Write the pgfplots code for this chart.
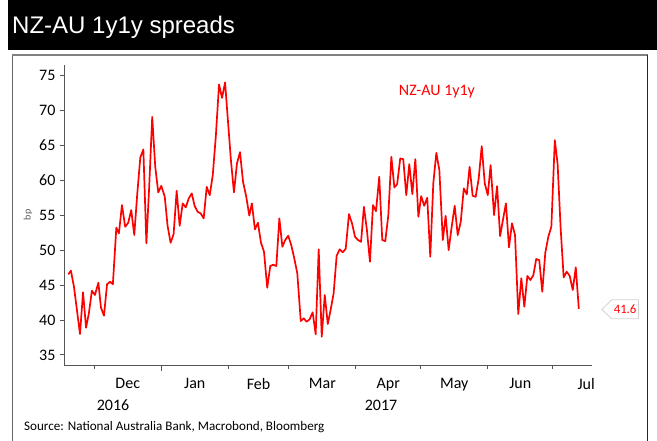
\documentclass[border=0pt]{standalone}
\usepackage{fontspec}
\setmainfont{Carlito}
\newfontfamily\titlefont{Liberation Sans}
\usepackage{pgfplots}
\pgfplotsset{compat=1.18}
\definecolor{axisgray}{HTML}{555555}
\definecolor{nabred}{HTML}{FF0000}
\pgfplotstableread{
x y
-12.0 46.53
-10.8 47.05
-9.4 44.76
-6.6 37.99
-5.2 43.96
-3.8 38.89
-2.5 40.95
-1.1 44.18
0.3 43.57
1.9 45.33
3.1 41.75
4.5 40.61
5.9 45.10
7.3 45.47
8.6 45.10
10.2 53.20
11.4 52.40
12.8 56.44
14.3 53.34
15.7 53.91
17.1 55.73
18.5 52.15
19.9 58.12
21.3 63.27
22.7 64.41
24.1 50.96
25.4 59.06
26.8 69.07
28.2 61.92
29.6 58.26
31.0 59.20
32.6 57.63
33.9 53.48
35.3 51.05
36.7 52.29
38.1 58.49
39.5 53.48
40.9 56.69
42.3 56.11
43.7 57.40
45.1 58.12
46.4 56.34
47.8 55.48
49.2 55.26
50.6 54.54
52.0 59.06
53.4 57.87
54.8 60.73
56.2 66.21
57.7 73.71
59.1 71.79
60.5 74.00
61.8 68.60
63.2 62.88
64.6 58.26
66.0 62.41
67.4 64.02
68.8 59.78
70.3 57.63
71.7 54.94
72.9 56.69
74.3 52.97
75.7 53.91
77.1 51.05
78.5 49.76
80.0 44.61
81.4 47.72
82.8 47.91
84.2 47.72
85.6 54.54
87.0 50.48
88.3 51.44
89.7 52.05
91.1 50.72
92.5 48.82
93.9 46.67
95.5 39.85
96.9 40.23
98.2 39.75
99.6 40.09
101.0 41.09
102.4 37.95
103.8 50.11
105.2 37.60
106.6 43.57
108.0 39.42
109.3 41.42
110.7 43.81
112.1 49.19
113.5 50.11
114.9 49.68
116.3 50.19
117.8 55.16
119.2 53.83
120.6 51.91
122.0 51.44
123.4 51.19
124.7 56.20
126.1 52.87
127.5 48.33
128.9 56.44
130.3 55.58
131.8 60.49
133.2 51.44
134.6 51.29
136.0 55.01
137.4 63.35
138.8 58.97
140.1 59.45
141.5 63.12
142.9 63.02
144.3 57.87
145.7 62.31
147.1 58.02
148.5 63.02
149.9 54.77
151.2 57.73
152.6 56.34
154.0 57.49
155.4 49.05
156.8 59.55
158.2 63.92
159.6 61.45
161.2 51.44
162.5 54.91
163.9 50.00
165.3 53.34
166.7 56.34
168.1 52.15
169.5 54.05
170.9 58.83
172.3 57.97
173.6 61.92
175.0 57.77
176.4 57.63
177.8 60.26
179.2 64.88
180.6 59.55
182.0 57.87
183.3 62.17
184.9 55.01
186.3 59.16
187.7 52.01
189.0 54.30
190.4 56.69
191.8 50.39
193.2 53.83
194.6 52.15
196.1 40.85
197.5 45.96
198.9 41.89
200.3 46.29
201.7 45.71
203.1 46.43
204.4 48.72
205.8 48.57
207.2 44.04
208.6 49.62
210.0 51.91
211.4 53.34
213.0 65.74
214.3 62.31
215.7 53.11
217.1 46.10
218.5 46.90
219.9 46.29
221.3 44.28
222.7 47.53
224.1 41.60
}\spreads
\begin{document}
\begin{tikzpicture}
\path[use as bounding box] (0pt,0pt) rectangle (657pt,441pt);
% title bar
\fill[black] (8pt,391pt) rectangle (657pt,441pt);
\node[anchor=base west, inner sep=0pt, text=white, font=\titlefont\fontsize{24}{28}\selectfont] at (12pt,407.7pt) {NZ-AU 1y1y spreads};
% frame
\draw[gray!80!black, line width=1pt] (12.7pt,0pt) -- (12.7pt,386pt);
\draw[gray, line width=2pt] (11.7pt,386pt) -- (647.5pt,386pt);
\draw[black!85, line width=1pt] (647pt,386pt) -- (647pt,0pt);
\begin{axis}[
  at={(64pt,76pt)}, anchor=south west,
  scale only axis, width=528pt, height=300pt,
  xmin=-14, xmax=230.2, ymin=33.55, ymax=76.5,
  axis lines*=left,
  axis line style={axisgray, line width=0.9pt},
  tick style={axisgray, line width=0.8pt},
  tick align=outside,
  major tick length=4pt,
  ytick={35,40,45,50,55,60,65,70,75},
  xtick={0,31,62,90,121,151,182,212},
  xticklabels={},
  extra x ticks={15.5,46.5,76,105.5,136,166.5,197,227.5},
  extra x tick labels={Dec,Jan,Feb,Mar,Apr,May,Jun,Jul},
  extra x tick style={tick style={draw=none}},
  /pgf/number format/assume math mode=true,
  tick label style={font=\fontsize{16}{19}\selectfont, text=black},
  xticklabel style={yshift=-6pt},
  yticklabel style={xshift=-1pt},
]
\addplot[nabred, line width=1.7pt, line join=round] table[x=x, y=y] {\spreads};
\coordinate (last) at (axis cs:224.1,41.6);
\coordinate (lbl) at (axis cs:158.5,72.75);
\coordinate (jan) at (axis cs:31,33.55);
\end{axis}
\draw[axisgray, line width=0.8pt] (jan) -- ++(0pt,-6pt);
\node[text=nabred, font=\fontsize{16}{19}\selectfont] at (lbl) {NZ-AU 1y1y};
% last value callout
\path (last) ++(23pt,-0.7pt) coordinate (tip);
\draw[gray!35, fill=white, line width=0.8pt] (tip) -- ++(10pt,9.7pt) -- ++(26.6pt,0pt) -- ++(0pt,-19pt) -- ++(-26.6pt,0pt) -- cycle;
\node[text=nabred, font=\fontsize{12.8}{15}\selectfont, inner sep=0pt] at ([xshift=23.3pt,yshift=0.2pt]tip) {41.6};
% y label
\node[rotate=90, text=axisgray, font=\fontsize{10}{12}\selectfont] at (28pt,226pt) {bp};
% years
\node[font=\fontsize{16}{19}\selectfont] at (113pt,36pt) {2016};
\node[font=\fontsize{16}{19}\selectfont] at (381pt,36pt) {2017};
% source
\node[anchor=west, inner sep=0pt, font=\fontsize{13.1}{15}\selectfont] at (24pt,14pt) {Source: National Australia Bank, Macrobond, Bloomberg};
\end{tikzpicture}
\end{document}
